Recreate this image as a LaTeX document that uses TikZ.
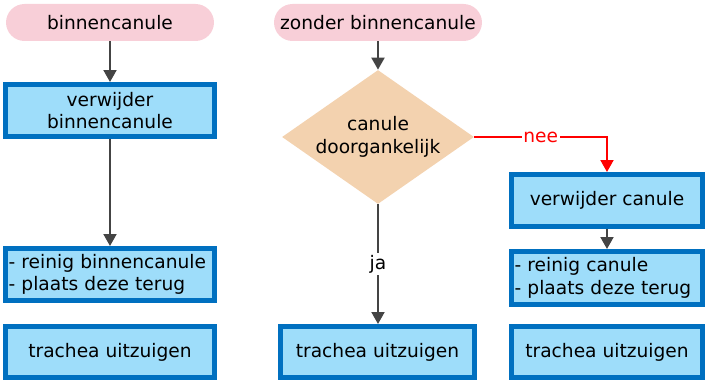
\documentclass[tikz,border=0pt]{standalone}
\usepackage{fontspec}
\setmainfont{DejaVu Sans}
\usetikzlibrary{shapes.geometric,arrows.meta}
\definecolor{pillpink}{HTML}{F8CFD8}
\definecolor{decpeach}{HTML}{F3D2AF}
\definecolor{actfill}{HTML}{9EDDFA}
\definecolor{actline}{HTML}{0070C0}
\definecolor{arrowgray}{HTML}{444444}
\tikzset{%
  startnode/.style = {shape=rectangle, rounded corners=0.37cm, fill=pillpink,%
                      minimum width=4.16cm, minimum height=0.74cm, inner sep=0pt},%
  actnode/.style   = {shape=rectangle, draw=actline, line width=0.1cm,%
                      fill=actfill, align=center, inner sep=0pt},%
  listnode/.style  = {actnode, align=left, inner xsep=0.06cm},%
  decnode/.style   = {shape=diamond, fill=decpeach, align=center, inner sep=0pt,%
                      minimum width=3.84cm, minimum height=2.68cm, shape aspect=1.43},%
  flow/.style      = {draw=arrowgray, line width=0.04cm,%
                      -{Triangle[width=0.26cm,length=0.24cm]}},%
  noflow/.style    = {flow, draw=red, -{Triangle[width=0.26cm,length=0.24cm,fill=red]}},%
  lbl/.style       = {fill=white, inner sep=1pt}%
}

\begin{document}
\begin{tikzpicture}[x=0.02cm,y=-0.02cm,every node/.style={font=\fontsize{10.6}{12.8}\selectfont}]
	\useasboundingbox (0,0) rectangle (708,381);
	% left column
	\node[startnode] (inner) at (110,22.5) {binnencanule};
	\node[actnode, minimum width=4.18cm, minimum height=1.04cm] (remin) at (110,110.5) {verwijder\\binnencanule};
	\node[listnode, text width=4.06cm, minimum height=1.04cm] (cleanin) at (110,274.5) {- reinig binnencanule\\- plaats deze terug};
	\node[actnode, minimum width=4.18cm, minimum height=1.02cm] (suckin) at (110,352) {trachea uitzuigen};
	% middle column
	\node[startnode] (noinner) at (378,22.5) {zonder binnencanule};
	\node[decnode] (open) at (378,137) {canule\\doorgankelijk};
	\node[actnode, minimum width=3.88cm, minimum height=1.02cm] (suckmid) at (377.5,352) {trachea uitzuigen};
	% right column
	\node[actnode, minimum width=3.82cm, minimum height=1.04cm] (remcan) at (607,200.5) {verwijder canule};
	\node[listnode, text width=3.70cm, minimum height=1.06cm] (cleancan) at (607,278) {- reinig canule\\- plaats deze terug};
	\node[actnode, minimum width=3.82cm, minimum height=1.02cm] (suckright) at (607,352) {trachea uitzuigen};
	% connectors
	\draw[flow] (inner) -- (remin);
	\draw[flow] (remin) -- (cleanin);
	\draw[flow] (noinner) -- (open);
	\draw[flow] (open) -- node[lbl] {ja} (suckmid.north -| open.south);
	\draw[noflow] (open.east) -| node[lbl, pos=0.25, text=red] {nee} (remcan.north);
	\draw[flow] (remcan) -- (cleancan);
\end{tikzpicture}
\end{document}
